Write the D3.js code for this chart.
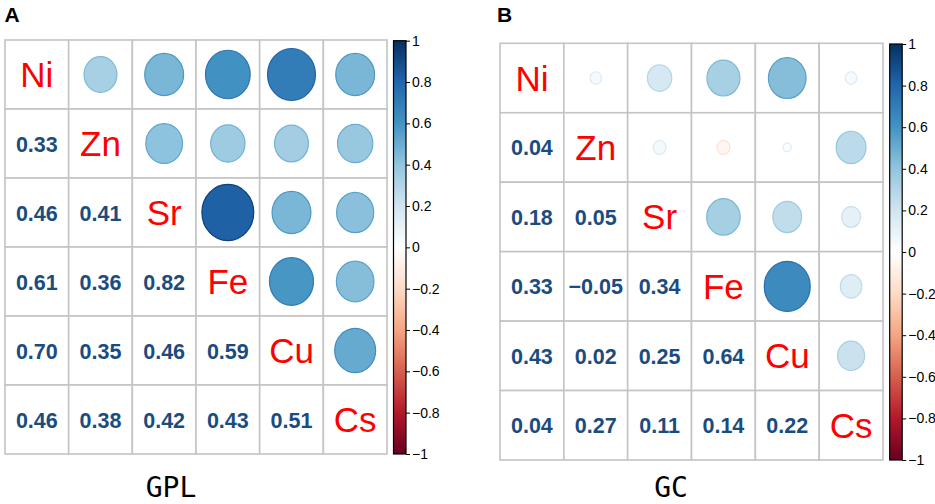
<!DOCTYPE html>
<html>
<head>
<meta charset="utf-8">
<script src="https://d3js.org/d3.v7.min.js"></script>
<style>
  body { margin: 0; background: #fff; }
</style>
</head>
<body>
<div id="chart"></div>
<script>
// variables (same order on both axes)
var vars = ["Ni", "Zn", "Sr", "Fe", "Cu", "Cs"];

// lower triangle of the correlation matrices, row by row
var gplLower = [
  [],
  [0.33],
  [0.46, 0.41],
  [0.61, 0.36, 0.82],
  [0.70, 0.35, 0.46, 0.59],
  [0.46, 0.38, 0.42, 0.43, 0.51]
];
var gcLower = [
  [],
  [0.04],
  [0.18, 0.05],
  [0.33, -0.05, 0.34],
  [0.43, 0.02, 0.25, 0.64],
  [0.04, 0.27, 0.11, 0.14, 0.22]
];

// colour bar ticks
var barTicks = [1, 0.8, 0.6, 0.4, 0.2, 0, -0.2, -0.4, -0.6, -0.8, -1];

// corrplot RdBu palette
var rdbu = ["#67001F", "#B2182B", "#D6604D", "#F4A582", "#FDDBC7", "#FFFFFF",
            "#D1E5F0", "#92C5DE", "#4393C3", "#2166AC", "#053061"];
var color = d3.scaleLinear()
  .domain(d3.range(11).map(function(i) { return -1 + i * 0.2; }))
  .range(rdbu);

// outline: same ramp, a little further out
function edge(v) {
  var s = v < 0 ? -1 : 1;
  return color(s * Math.min(1, Math.abs(v) + 0.12));
}

var svg = d3.select("#chart")
  .append("svg")
  .attr("width", 935)
  .attr("height", 504);

// gradient for the colour bars (top = 1, bottom = -1)
var grad = svg.append("defs").append("linearGradient")
  .attr("id", "cbar")
  .attr("x1", 0).attr("y1", 0).attr("x2", 0).attr("y2", 1);
grad.selectAll("stop")
  .data(d3.range(0, 21))
  .enter()
  .append("stop")
  .attr("offset", function(i) { return (i / 20 * 100) + "%"; })
  .attr("stop-color", function(i) { return color(1 - i / 10); });

// full symmetric matrix from a lower triangle
function fullMatrix(lower) {
  return vars.map(function(a, i) {
    return vars.map(function(b, j) {
      if (i == j) return 1;
      return i > j ? lower[i][j] : lower[j][i];
    });
  });
}

function drawPanel(opt) {
  var m = fullMatrix(opt.lower);
  var g = svg.append("g");

  var x = d3.scaleBand().domain(vars).range([opt.left, opt.right]);
  var y = d3.scaleBand().domain(vars).range([opt.top, opt.bottom]);

  var cells = [];
  vars.forEach(function(r, i) {
    vars.forEach(function(c, j) {
      cells.push({row: r, col: c, i: i, j: j, v: m[i][j]});
    });
  });

  // grid
  g.selectAll("rect.cell")
    .data(cells)
    .enter()
    .append("rect")
    .attr("class", "cell")
    .attr("x", function(d) { return x(d.col); })
    .attr("y", function(d) { return y(d.row); })
    .attr("width", x.bandwidth())
    .attr("height", y.bandwidth())
    .style("fill", "#fff")
    .style("stroke", "#c4c4c4")
    .style("stroke-width", 1.6);

  // upper triangle: circles, area ~ |r|
  g.selectAll("ellipse")
    .data(cells.filter(function(d) { return d.j > d.i; }))
    .enter()
    .append("ellipse")
    .attr("cx", function(d) { return x(d.col) + x.bandwidth() / 2; })
    .attr("cy", function(d) { return y(d.row) + y.bandwidth() / 2; })
    .attr("rx", function(d) { return 0.45 * Math.sqrt(Math.abs(d.v)) * x.bandwidth(); })
    .attr("ry", function(d) { return 0.45 * Math.sqrt(Math.abs(d.v)) * y.bandwidth(); })
    .style("fill", function(d) { return color(d.v); })
    .style("stroke", function(d) { return edge(d.v); })
    .style("stroke-width", 1.2);

  // lower triangle: numbers
  g.selectAll("text.num")
    .data(cells.filter(function(d) { return d.i > d.j; }))
    .enter()
    .append("text")
    .attr("class", "num")
    .attr("x", function(d) { return x(d.col) + x.bandwidth() / 2; })
    .attr("y", function(d) { return y(d.row) + y.bandwidth() / 2 + 8; })
    .attr("text-anchor", "middle")
    .style("font-family", "'Liberation Sans', Arial, sans-serif")
    .style("font-weight", "bold")
    .style("font-size", "21.5px")
    .style("fill", "#1b4c7f")
    .text(function(d) { return d3.format(".2f")(d.v).replace("-", "\u2212"); });

  // diagonal: variable names
  g.selectAll("text.lab")
    .data(vars)
    .enter()
    .append("text")
    .attr("class", "lab")
    .attr("x", function(d) { return x(d) + x.bandwidth() / 2; })
    .attr("y", function(d) { return y(d) + y.bandwidth() / 2 + 12.5; })
    .attr("text-anchor", "middle")
    .style("font-family", "'Liberation Sans', Arial, sans-serif")
    .style("font-size", "35px")
    .style("fill", "#ff0000")
    .text(function(d) { return d; });

  // colour bar
  var cb = d3.scaleLinear().domain([-1, 1]).range([opt.barBottom, opt.barTop]);
  g.append("rect")
    .attr("x", opt.barX)
    .attr("y", opt.barTop)
    .attr("width", opt.barW)
    .attr("height", opt.barBottom - opt.barTop)
    .style("fill", "url(#cbar)")
    .style("stroke", "#000")
    .style("stroke-width", 1.2);

  var ax = g.append("g")
    .attr("transform", "translate(" + (opt.barX + opt.barW) + ",0)")
    .call(d3.axisRight(cb)
      .tickValues(barTicks)
      .tickSize(4)
      .tickPadding(2)
      .tickFormat(function(d) { return d3.format("")(Math.round(d * 10) / 10).replace("-", "\u2212"); }));
  ax.select(".domain").remove();
  ax.selectAll("line").style("stroke", "#000");
  ax.selectAll("text")
    .style("font-family", "'Liberation Sans', Arial, sans-serif")
    .style("font-size", "14px")
    .style("fill", "#000");

  // panel letter
  svg.append("text")
    .attr("x", opt.letterX)
    .attr("y", 22)
    .style("font-family", "'Liberation Sans', Arial, sans-serif")
    .style("font-weight", "bold")
    .style("font-size", "21px")
    .text(opt.letter);

  // title under the matrix
  svg.append("text")
    .attr("x", opt.titleX)
    .attr("y", 497)
    .attr("text-anchor", "middle")
    .style("font-family", "'DejaVu Sans Mono', monospace")
    .style("font-size", "28px")
    .style("fill", "#000")
    .text(opt.title);
}

drawPanel({
  lower: gplLower, left: 5, right: 387, top: 40, bottom: 454,
  barX: 393.5, barW: 12.5, barTop: 40.7, barBottom: 454,
  letter: "A", letterX: 4.5, title: "GPL", titleX: 171
});
drawPanel({
  lower: gcLower, left: 500, right: 883, top: 43.3, bottom: 460,
  barX: 889.7, barW: 12.5, barTop: 44, barBottom: 460,
  letter: "B", letterX: 497, title: "GC", titleX: 671
});
</script>
</body>
</html>
